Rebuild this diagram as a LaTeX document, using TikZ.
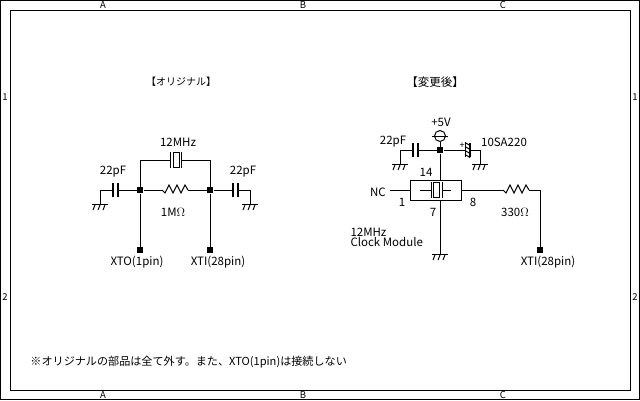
\documentclass[tikz,border=0pt]{standalone}
\usepackage{fontspec}
\setmainfont{Noto Sans CJK JP}
\tikzset{
    lbl/.style={inner sep=0pt,font=\fontsize{11.5}{11.5}\selectfont},
    frm/.style={inner sep=0pt,font=\fontsize{9.5}{9.5}\selectfont},
    dot/.style={rectangle,fill=black,inner sep=0pt,minimum size=6pt},
    plate/.style={line width=1.7pt},
    pics/gnd/.style={code={
        \draw (-8,0) -- (8,0);
        \foreach \hx in {-5,0,5} \draw (\hx,1) -- (\hx-2,6);
    }},
    pics/res/.style={code={
        \draw (0,0) -- (3,3) -- (7,-5) -- (11,3) -- (15,-5) -- (19,3) -- (23,-5) -- (26,0);
    }}
}
\begin{document}
\begin{tikzpicture}[x=1pt,y=-1pt,line width=1pt]
\useasboundingbox (0,0) rectangle (640,400);
% frame
\draw (0.5,0.5) rectangle (639.5,399.5);
\draw (10.5,10.5) rectangle (630.5,390.5);
\begin{scope}[every node/.style={frm}]
    \node (At) at (103,5) {A};
    \node (Bt) at (303,5) {B};
    \node (Ct) at (503,5) {C};
    \node (Ab) at (103,395) {A};
    \node (Bb) at (303,395) {B};
    \node (Cb) at (503,395) {C};
    \node (Ll) at (5,97) {1};
    \node (Lr) at (635,97) {1};
    \node (Ml) at (5,297) {2};
    \node (Mr) at (635,297) {2};
\end{scope}

% texts
\begin{scope}[every node/.style={lbl}]
    \node[font=\fontsize{10}{10}\selectfont] (orig) at (181,82) {【オリジナル】};
    \node (chg) at (435,82) {【変更後】};
    \node (xtal) at (178,142) {12MHz};
    \node (cl) at (113,172) {22pF};
    \node (cr) at (243,172) {22pF};
    \node (rm) at (173,212) {1M$\Omega$};
    \node (xto) at (137,262) {XTO(1pin)};
    \node (xti) at (218,262) {XTI(28pin)};
    \node (vcc) at (441,122) {+5V};
    \node (cn) at (393,142) {22pF};
    \node (ce) at (504,142) {10SA220};
    \node (p14) at (426,172) {14};
    \node (nc) at (378,192) {NC};
    \node (p1) at (402,202) {1};
    \node (p7) at (433,212) {7};
    \node (p8) at (473,202) {8};
    \node (r3) at (515,212) {330$\Omega$};
    \node[anchor=west] (mhz) at (350,232) {12MHz};
    \node[anchor=west] (mod) at (350,242) {Clock Module};
    \node (xti2) at (548,262) {XTI(28pin)};
    \node[anchor=west,font=\fontsize{11.1}{11.1}\selectfont] (note) at (30,362) {※オリジナルの部品は全て外す。また、XTO(1pin)は接続しない};
\end{scope}

% original
\node[dot] (J1) at (140,190) {};
\node[dot] (J2) at (210,190) {};
\node[dot] (T1) at (140,250) {};
\node[dot] (T2) at (210,250) {};
\coordinate (Xa) at (170,160);
\coordinate (Xb) at (181,160);
\coordinate (Ca) at (118,190);
\coordinate (Cb) at (113,190);
\coordinate (Ga) at (100,204);
\coordinate (Cc) at (233,190);
\coordinate (Cd) at (238,190);
\coordinate (Gb) at (250,204);
\coordinate (Ra) at (162,190);
\coordinate (Rb) at (188,190);
\draw (J1) -- (T1);
\draw (J2) -- (T2);
\draw (J1.center) |- (Xa);
\draw (J2.center) |- (Xb);
\draw (Xa) ++(0,-8) -- ++(0,16);
\draw (Xb) ++(0,-8) -- ++(0,16);
\draw (173.5,152.5) rectangle (179.5,167.5);
\draw (J1) -- (Ca);
\draw[plate] (Ca) ++(0,-7) -- ++(0,14);
\draw[plate] (Cb) ++(0,-7) -- ++(0,14);
\draw (Cb) -| (Ga);
\draw (J2) -- (Cc);
\draw[plate] (Cc) ++(0,-7) -- ++(0,14);
\draw[plate] (Cd) ++(0,-7) -- ++(0,14);
\draw (Cd) -| (Gb);
\draw (J1) -- (Ra);
\draw (Rb) -- (J2);
\pic at (Ra) {res};
\pic at (Ga) {gnd};
\pic at (Gb) {gnd};

% modified
\node[dot] (J3) at (440,150) {};
\node[dot] (T3) at (540,250) {};
\node[draw,circle,inner sep=0pt,minimum size=11pt] (V) at (440,136) {};
\node[draw,rectangle,minimum width=51pt,minimum height=20pt,inner sep=0pt] (U) at (435.5,190) {};
\coordinate (Ua) at (440,180);
\coordinate (Ub) at (440,200);
\coordinate (Gc) at (440,254);
\coordinate (Cn) at (418,150);
\coordinate (Cm) at (413,150);
\coordinate (Gd) at (400,164);
\coordinate (Ea) at (465,150);
\coordinate (Eb) at (470,150);
\coordinate (Ge) at (480,164);
\coordinate (Nc) at (390,190);
\coordinate (Rc) at (503,190);
\coordinate (Rd) at (529,190);
\coordinate (Ya) at (420,190);
\coordinate (Yb) at (431,190);
\coordinate (Yc) at (442,190);
\coordinate (Yd) at (451,190);
\draw (432,136) -- (448,136);
\draw (V.south) -- (J3);
\draw (J3) -- (Ua);
\draw (Ub) -- (Gc);
\draw (J3) -- (Cn);
\draw[plate] (Cn) ++(0,-7) -- ++(0,14);
\draw[plate] (Cm) ++(0,-7) -- ++(0,14);
\draw (Cm) -| (Gd);
\draw (J3) -- (Ea);
\draw (Ea) ++(0,-7) -- ++(0,14);
\draw[plate] (Eb) ++(0,-7) -- ++(0,14);
\foreach \hy in {-6,-2,2,6} \draw (465,150+\hy-1.5) -- (470,150+\hy+1.5);
\draw (Eb) -| (Ge);
\node[font=\fontsize{9}{9}\selectfont,inner sep=0pt] (plus) at (462,146) {+};
\draw (Nc) -- (U.west);
\draw (Ya) -- (Yb);
\draw (Yc) -- (Yd);
\draw (Yb) ++(0,-8) -- ++(0,16);
\draw (Yc) ++(0,-8) -- ++(0,16);
\draw (433.5,182.5) rectangle (439.5,197.5);
\draw (U.east) -- (Rc);
\pic at (Rc) {res};
\draw (Rd) -| (T3);
\pic at (Gc) {gnd};
\pic at (Gd) {gnd};
\pic at (Ge) {gnd};
\end{tikzpicture}
\end{document}
